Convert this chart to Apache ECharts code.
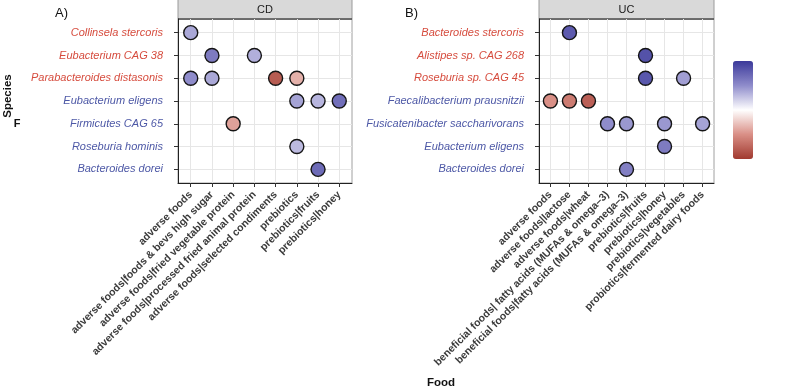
<!DOCTYPE html>
<html><head><meta charset="utf-8">
<script src="https://cdn.jsdelivr.net/npm/echarts@6/dist/echarts.min.js"></script>
<style>html,body{margin:0;padding:0;background:#fff}#c{width:800px;height:391px}</style>
</head><body><div id="c"></div>
<script>
// ---- data ----
const foodsCD = [
  'adverse foods',
  'adverse foods|foods & bevs high sugar',
  'adverse foods|fried vegetable protein',
  'adverse foods|processed fried animal protein',
  'adverse foods|selected condiments',
  'prebiotics',
  'prebiotics|fruits',
  'prebiotics|honey'
];
const speciesCD = [
  'Collinsela stercoris',
  'Eubacterium CAG 38',
  'Parabacteroides distasonis',
  'Eubacterium eligens',
  'Firmicutes CAG 65',
  'Roseburia hominis',
  'Bacteroides dorei'
];
const speciesSignCD = [1, 1, 1, -1, -1, -1, -1];
const pointsCD = [
  ['adverse foods', 'Collinsela stercoris', 0.38],
  ['adverse foods|foods & bevs high sugar', 'Eubacterium CAG 38', 0.6],
  ['adverse foods|processed fried animal protein', 'Eubacterium CAG 38', 0.35],
  ['adverse foods', 'Parabacteroides distasonis', 0.5],
  ['adverse foods|foods & bevs high sugar', 'Parabacteroides distasonis', 0.38],
  ['adverse foods|selected condiments', 'Parabacteroides distasonis', -0.8],
  ['prebiotics', 'Parabacteroides distasonis', -0.35],
  ['prebiotics', 'Eubacterium eligens', 0.4],
  ['prebiotics|fruits', 'Eubacterium eligens', 0.32],
  ['prebiotics|honey', 'Eubacterium eligens', 0.68],
  ['adverse foods|fried vegetable protein', 'Firmicutes CAG 65', -0.42],
  ['prebiotics', 'Roseburia hominis', 0.3],
  ['prebiotics|fruits', 'Bacteroides dorei', 0.7]
];

const foodsUC = [
  'adverse foods',
  'adverse foods|lactose',
  'adverse foods|wheat',
  'beneficial foods| fatty acids (MUFAs & omega\u20133)',
  'beneficial foods|fatty acids (MUFAs & omega\u20133)',
  'prebiotics|fruits',
  'prebiotics|honey',
  'prebiotics|vegetables',
  'probiotics|fermented dairy foods'
];
const speciesUC = [
  'Bacteroides stercoris',
  'Alistipes sp. CAG 268',
  'Roseburia sp. CAG 45',
  'Faecalibacterium prausnitzii',
  'Fusicatenibacter saccharivorans',
  'Eubacterium eligens',
  'Bacteroides dorei'
];
const speciesSignUC = [1, 1, 1, -1, -1, -1, -1];
const pointsUC = [
  ['adverse foods|lactose', 'Bacteroides stercoris', 0.8],
  ['prebiotics|fruits', 'Alistipes sp. CAG 268', 0.85],
  ['prebiotics|fruits', 'Roseburia sp. CAG 45', 0.82],
  ['prebiotics|vegetables', 'Roseburia sp. CAG 45', 0.42],
  ['adverse foods', 'Faecalibacterium prausnitzii', -0.5],
  ['adverse foods|lactose', 'Faecalibacterium prausnitzii', -0.62],
  ['adverse foods|wheat', 'Faecalibacterium prausnitzii', -0.78],
  ['beneficial foods| fatty acids (MUFAs & omega\u20133)', 'Fusicatenibacter saccharivorans', 0.5],
  ['beneficial foods|fatty acids (MUFAs & omega\u20133)', 'Fusicatenibacter saccharivorans', 0.45],
  ['prebiotics|honey', 'Fusicatenibacter saccharivorans', 0.45],
  ['probiotics|fermented dairy foods', 'Fusicatenibacter saccharivorans', 0.4],
  ['prebiotics|honey', 'Eubacterium eligens', 0.6],
  ['beneficial foods|fatty acids (MUFAs & omega\u20133)', 'Bacteroides dorei', 0.58]
];

// ---- chart ----
const FONT = '"Liberation Sans", Arial, Helvetica, sans-serif';
const RED = '#d64c3e', BLUE = '#4d58a6';
const idx = (n) => Array.from({length: n}, (_, i) => i);
const toXY = (pts, foods, species) => pts.map(p => [foods.indexOf(p[0]), species.indexOf(p[1]), p[2]]);

function xAxis(gi, foods) {
  return {
    type: 'value', gridIndex: gi, min: -0.6, max: foods.length - 0.4,
    axisLine: {show: true, onZero: false, lineStyle: {color: '#222', width: 1}},
    axisTick: {show: true, length: 4, lineStyle: {color: '#333'}, customValues: idx(foods.length)},
    axisLabel: {
      customValues: idx(foods.length), rotate: 45, margin: 10,
      fontFamily: FONT, fontSize: 10.5, fontWeight: 'bold', color: '#3a3a3a',
      formatter: v => foods[Math.round(v)]
    },
    splitLine: {show: true, lineStyle: {color: '#e6e6e6', width: 1}}
  };
}
function yAxis(gi, species, signs) {
  return {
    type: 'value', gridIndex: gi, inverse: true, min: -0.6, max: species.length - 0.4,
    axisLine: {show: true, onZero: false, lineStyle: {color: '#222', width: 1}},
    axisTick: {show: true, length: 4, lineStyle: {color: '#333'}, customValues: idx(species.length)},
    axisLabel: {
      customValues: idx(species.length), margin: 15,
      formatter: v => { const i = Math.round(v); return '{' + (signs[i] > 0 ? 'r' : 'b') + '|' + species[i] + '}'; },
      rich: {
        r: {color: RED, fontStyle: 'italic', fontFamily: FONT, fontSize: 11},
        b: {color: BLUE, fontStyle: 'italic', fontFamily: FONT, fontSize: 11}
      }
    },
    splitLine: {show: true, lineStyle: {color: '#e6e6e6', width: 1}}
  };
}
function scatter(gi, data) {
  return {
    type: 'scatter', xAxisIndex: gi, yAxisIndex: gi, data: data,
    symbolSize: 14,
    itemStyle: {borderColor: '#151515', borderWidth: 1.4, opacity: 1},
    emphasis: {disabled: true}
  };
}
function strip(x, w, label) {
  return [
    {type: 'rect', shape: {x: x, y: -1, width: w, height: 20}, style: {fill: '#d9d9d9', stroke: '#9a9a9a', lineWidth: 1}},
    {type: 'line', shape: {x1: x, y1: 19, x2: x + w, y2: 19}, style: {stroke: '#222', lineWidth: 1}},
    {type: 'text', x: x + w / 2, y: 9.5, style: {text: label, fontFamily: FONT, fontSize: 11, fill: '#1a1a1a', align: 'center', verticalAlign: 'middle'}}
  ];
}

const chart = echarts.init(document.getElementById('c'), null, {renderer: 'canvas'});
chart.setOption({
  backgroundColor: '#fff',
  animation: false,
  grid: [
    {left: 178, width: 174, top: 19, height: 164, show: true, borderColor: '#a0a0a0', borderWidth: 1, backgroundColor: '#fff', containLabel: false, outerBoundsMode: 'none'},
    {left: 539, width: 175, top: 19, height: 164, show: true, borderColor: '#a0a0a0', borderWidth: 1, backgroundColor: '#fff', containLabel: false, outerBoundsMode: 'none'}
  ],
  xAxis: [xAxis(0, foodsCD), xAxis(1, foodsUC)],
  yAxis: [yAxis(0, speciesCD, speciesSignCD), yAxis(1, speciesUC, speciesSignUC)],
  visualMap: {
    type: 'continuous', min: -1, max: 1, dimension: 2, seriesIndex: [0, 1],
    calculable: false, hoverLink: false, left: 733, top: 61, padding: 0,
    itemWidth: 20, itemHeight: 98, text: null,
    inRange: {color: ['#a13a30', '#d98f86', '#ffffff', '#8f8ccb', '#3b399a']}
  },
  series: [
    scatter(0, toXY(pointsCD, foodsCD, speciesCD)),
    scatter(1, toXY(pointsUC, foodsUC, speciesUC))
  ],
  graphic: [
    ...strip(178, 174, 'CD'),
    ...strip(539, 175, 'UC'),
    {type: 'text', x: 55, y: 13, style: {text: 'A)', fontFamily: FONT, fontSize: 13, fill: '#111', verticalAlign: 'middle'}},
    {type: 'text', x: 405, y: 13, style: {text: 'B)', fontFamily: FONT, fontSize: 13, fill: '#111', verticalAlign: 'middle'}},
    {type: 'text', x: 8, y: 96, rotation: Math.PI / 2, style: {text: 'Species', fontFamily: FONT, fontSize: 11.5, fontWeight: 'bold', fill: '#111', align: 'center', verticalAlign: 'middle'}},
    {type: 'text', x: 17, y: 124, style: {text: 'F', fontFamily: FONT, fontSize: 11, fontWeight: 'bold', fill: '#111', align: 'center', verticalAlign: 'middle'}},
    {type: 'text', x: 441, y: 383, style: {text: 'Food', fontFamily: FONT, fontSize: 11.5, fontWeight: 'bold', fill: '#111', align: 'center', verticalAlign: 'middle'}}
  ]
});
</script>
</body></html>
